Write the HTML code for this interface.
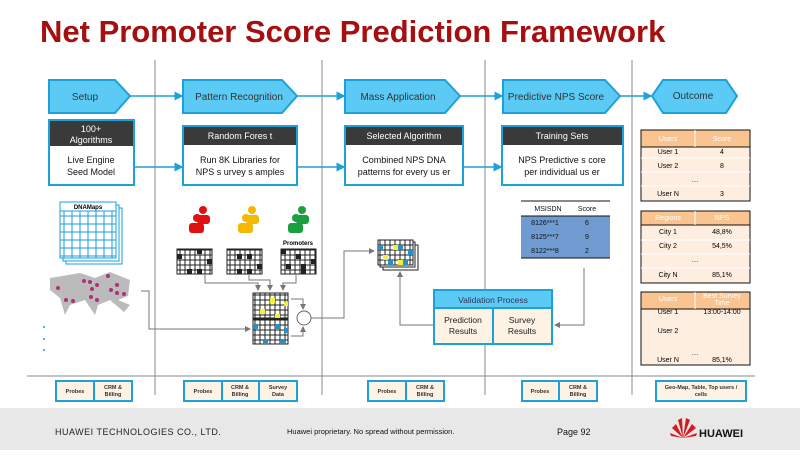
<!DOCTYPE html><html><head><style>body{margin:0;width:800px;height:450px;overflow:hidden;background:#fff;font-family:"Liberation Sans",sans-serif}</style></head><body>
<svg width="800" height="450" viewBox="0 0 800 450" font-family="Liberation Sans, sans-serif">
<defs>
<pattern id="g" width="5" height="5" patternUnits="userSpaceOnUse"><rect width="5" height="5" fill="#fff" stroke="#222" stroke-width="1"/></pattern>
<pattern id="gb" width="8" height="8" patternUnits="userSpaceOnUse"><rect width="8" height="8" fill="#fff" stroke="#1ea0d8" stroke-width="1"/></pattern>
<marker id="a" markerWidth="6" markerHeight="6" refX="5" refY="3" orient="auto"><path d="M0,0L6,3L0,6z" fill="#1ea0d8"/></marker>
<marker id="ag" markerWidth="6" markerHeight="6" refX="5" refY="3" orient="auto"><path d="M0,0L6,3L0,6z" fill="#777"/></marker>
</defs>
<text x="40" y="42" font-size="31" font-weight="bold" fill="#a50f0f">Net Promoter Score Prediction Framework</text>
<g stroke="#888" stroke-width="1"><line x1="155" y1="60" x2="155" y2="395"/><line x1="322" y1="60" x2="322" y2="395"/><line x1="485" y1="60" x2="485" y2="395"/><line x1="632" y1="60" x2="632" y2="395"/><line x1="27" y1="376" x2="755" y2="376"/></g>
<g fill="#5bcbf5" stroke="#1ea0d8" stroke-width="2">
<path d="M49,80H115L130,96L115,113H49Z"/><path d="M183,80H282L297,96L282,113H183Z"/><path d="M345,80H445L460,96L445,113H345Z"/><path d="M503,80H605L620,96L605,113H503Z"/><path d="M663,80H726L737,96L726,113H663L652,96Z"/>
</g>
<g font-size="10" fill="#333" text-anchor="middle"><text x="85" y="100">Setup</text><text x="239" y="100">Pattern Recognition</text><text x="398" y="100">Mass Application</text><text x="556" y="100">Predictive NPS Score</text><text x="693" y="99">Outcome</text></g>
<g stroke="#1ea0d8" stroke-width="1.5" marker-end="url(#a)"><line x1="130" y1="96" x2="182" y2="96"/><line x1="297" y1="96" x2="344" y2="96"/><line x1="460" y1="96" x2="502" y2="96"/><line x1="620" y1="96" x2="651" y2="96"/>
<line x1="134" y1="167" x2="182" y2="167"/><line x1="297" y1="167" x2="344" y2="167"/><line x1="463" y1="167" x2="501" y2="167"/></g>
<g stroke="#1ea0d8" stroke-width="2" fill="#fff"><rect x="49" y="120" width="85" height="65"/><rect x="183" y="126" width="114" height="59"/><rect x="345" y="126" width="118" height="59"/><rect x="502" y="126" width="121" height="59"/></g>
<g fill="#3a3a3a"><rect x="50" y="121" width="83" height="25"/><rect x="184" y="127" width="112" height="18"/><rect x="346" y="127" width="116" height="18"/><rect x="503" y="127" width="119" height="18"/></g>
<g font-size="9" fill="#fff" text-anchor="middle"><text x="91" y="132">100+</text><text x="91" y="143">Algorithms</text><text x="240" y="139">Random Fores t</text><text x="404" y="139">Selected Algorithm</text><text x="562" y="139">Training Sets</text></g>
<g font-size="9" fill="#111" text-anchor="middle"><text x="91" y="163">Live Engine</text><text x="91" y="175">Seed Model</text><text x="240" y="163">Run 8K Libraries for</text><text x="240" y="175">NPS s urvey s amples</text><text x="404" y="163">Combined NPS DNA</text><text x="404" y="175">patterns for every us er</text><text x="562" y="163">NPS Predictive s core</text><text x="562" y="175">per individual us er</text></g>
<rect x="66" y="208" width="56" height="56" fill="#fff" stroke="#1ea0d8"/><rect x="63" y="205" width="56" height="56" fill="#fff" stroke="#1ea0d8"/>
<rect x="60" y="202" width="56" height="56" fill="url(#gb)" stroke="#1ea0d8"/><rect x="60" y="202" width="56" height="9" fill="#fff" stroke="#1ea0d8"/>
<text x="88" y="209" font-size="6" font-weight="bold" text-anchor="middle">DNAMaps</text>
<path d="M50,278L80,273L95,278L110,272L130,280L128,296L118,300L130,305L124,312L110,300L98,305L95,315L85,300L70,305L65,315L60,298L50,290Z" fill="#bbb"/>
<g fill="#b0307a"><circle cx="58" cy="288" r="2"/><circle cx="66" cy="300" r="2"/><circle cx="73" cy="301" r="2"/><circle cx="84" cy="281" r="2"/><circle cx="90" cy="282" r="2"/><circle cx="92" cy="289" r="2"/><circle cx="97" cy="285" r="2"/><circle cx="108" cy="276" r="2"/><circle cx="91" cy="297" r="2"/><circle cx="97" cy="300" r="2"/><circle cx="111" cy="290" r="2"/><circle cx="117" cy="285" r="2"/><circle cx="117" cy="293" r="2"/><circle cx="124" cy="294" r="2"/></g>
<g fill="#1ea0d8"><circle cx="44" cy="327" r="1"/><circle cx="44" cy="339" r="1"/><circle cx="44" cy="350" r="1"/></g>
<g transform="translate(188,206)"><g fill="#e01010"><circle cx="15" cy="4" r="4"/><rect x="9" y="9" width="13" height="9" rx="3"/><circle cx="9" cy="12" r="4"/><rect x="1" y="17" width="15" height="10" rx="3"/></g></g>
<g transform="translate(237,206)"><g fill="#f5b800"><circle cx="15" cy="4" r="4"/><rect x="9" y="9" width="13" height="9" rx="3"/><circle cx="9" cy="12" r="4"/><rect x="1" y="17" width="15" height="10" rx="3"/></g></g>
<g transform="translate(287,206)"><g fill="#1aa040"><circle cx="15" cy="4" r="4"/><rect x="9" y="9" width="13" height="9" rx="3"/><circle cx="9" cy="12" r="4"/><rect x="1" y="17" width="15" height="10" rx="3"/></g></g>
<text x="298" y="245" font-size="6" font-weight="bold" text-anchor="middle">Promoters</text>
<rect x="177" y="249" width="35" height="25" fill="url(#g)" stroke="#222"/><rect x="227" y="249" width="35" height="25" fill="url(#g)" stroke="#222"/><rect x="281" y="249" width="35" height="25" fill="url(#g)" stroke="#222"/>
<g fill="#222"><rect x="177" y="254" width="5" height="5"/><rect x="197" y="249" width="5" height="5"/><rect x="207" y="259" width="5" height="5"/><rect x="187" y="269" width="5" height="5"/><rect x="197" y="269" width="5" height="5"/><rect x="237" y="254" width="5" height="5"/><rect x="247" y="254" width="5" height="5"/><rect x="257" y="264" width="5" height="5"/><rect x="237" y="269" width="5" height="5"/><rect x="247" y="269" width="5" height="5"/><rect x="281" y="249" width="5" height="5"/><rect x="296" y="254" width="5" height="5"/><rect x="311" y="259" width="5" height="5"/><rect x="301" y="264" width="5" height="5"/><rect x="286" y="264" width="5" height="5"/><rect x="301" y="269" width="5" height="5"/></g>
<rect x="253" y="293" width="35" height="25" fill="url(#g)" stroke="#222"/><rect x="253" y="319" width="35" height="25" fill="url(#g)" stroke="#222"/>
<g fill="#f0f040"><rect x="270" y="298" width="5" height="5"/><rect x="284" y="302" width="4" height="4"/><rect x="260" y="309" width="5" height="5"/><rect x="275" y="314" width="5" height="4"/></g>
<g fill="#2a8fc0"><rect x="253" y="324" width="5" height="5"/><rect x="275" y="324" width="5" height="5"/><rect x="284" y="328" width="4" height="5"/><rect x="263" y="339" width="5" height="5"/><rect x="280" y="339" width="5" height="5"/></g>
<circle cx="304" cy="318" r="7" fill="#fff" stroke="#666"/>
<g stroke="#777" fill="none" stroke-width="1" marker-end="url(#ag)"><path d="M205,275V283H258V290"/><path d="M249,275V280H270V290"/><path d="M296,275V283H283V290"/><path d="M291,299H303V309"/><path d="M291,336H303V327"/><path d="M141,291H149V329H250"/><path d="M311,318H344V251H374"/><path d="M434,325H400V272"/><path d="M584,268V325H555"/></g>
<rect x="383" y="245" width="35" height="25" fill="#fff" stroke="#222"/><rect x="380" y="242" width="35" height="25" fill="#fff" stroke="#222"/>
<rect x="378" y="240" width="35" height="25" fill="url(#g)" stroke="#222"/>
<g><rect x="378" y="245" width="5" height="5" fill="#2a8fc0"/><rect x="393" y="245" width="5" height="5" fill="#f0f040"/><rect x="398" y="245" width="5" height="5" fill="#2a8fc0"/><rect x="408" y="250" width="5" height="5" fill="#2a8fc0"/><rect x="383" y="255" width="5" height="5" fill="#f0f040"/><rect x="388" y="260" width="5" height="5" fill="#2a8fc0"/><rect x="398" y="260" width="5" height="5" fill="#f0f040"/><rect x="403" y="260" width="5" height="5" fill="#2a8fc0"/></g>
<line x1="521" y1="201" x2="610" y2="201" stroke="#111"/><rect x="521" y="216" width="89" height="42" fill="#6f9bd1"/><line x1="521" y1="216" x2="610" y2="216" stroke="#111"/><line x1="521" y1="258" x2="610" y2="258" stroke="#111"/>
<g font-size="7" text-anchor="middle" fill="#111"><text x="548" y="211">MSISDN</text><text x="587" y="211">Score</text><text x="545" y="225">8126***1</text><text x="587" y="225">6</text><text x="545" y="239">8125***7</text><text x="587" y="239">9</text><text x="545" y="253">8122***8</text><text x="587" y="253">2</text></g>
<rect x="434" y="290" width="118" height="54" fill="#fdf2e3" stroke="#1ea0d8" stroke-width="2"/><rect x="435" y="291" width="116" height="17" fill="#5bcbf5"/><line x1="434" y1="308" x2="552" y2="308" stroke="#1ea0d8" stroke-width="2"/><line x1="493" y1="308" x2="493" y2="344" stroke="#1ea0d8" stroke-width="2"/>
<g text-anchor="middle" font-size="8.5" fill="#222"><text x="493" y="303" fill="#335">Validation Process</text><text x="463" y="323">Prediction</text><text x="463" y="334">Results</text><text x="522" y="323">Survey</text><text x="522" y="334">Results</text></g>
<g font-size="7" text-anchor="middle">
<rect x="641" y="130" width="109" height="71" fill="#fdeee0" stroke="#111"/><rect x="641" y="130" width="109" height="17" fill="#f9c48f" stroke="#111"/><line x1="695" y1="130" x2="695" y2="147" stroke="#fff"/>
<g stroke="#fff"><line x1="641" y1="158" x2="750" y2="158"/><line x1="641" y1="172" x2="750" y2="172"/><line x1="641" y1="186" x2="750" y2="186"/></g>
<text x="668" y="141" fill="#fff">Users</text><text x="722" y="141" fill="#fff">Score</text><text x="668" y="154">User 1</text><text x="722" y="154">4</text><text x="668" y="168">User 2</text><text x="722" y="168">8</text><text x="695" y="182">…</text><text x="668" y="196">User N</text><text x="722" y="196">3</text>
<rect x="641" y="211" width="109" height="72" fill="#fdeee0" stroke="#111"/><rect x="641" y="211" width="109" height="14" fill="#f9c48f" stroke="#111"/><line x1="695" y1="211" x2="695" y2="225" stroke="#fff"/>
<g stroke="#fff"><line x1="641" y1="240" x2="750" y2="240"/><line x1="641" y1="254" x2="750" y2="254"/><line x1="641" y1="268" x2="750" y2="268"/></g>
<text x="668" y="220" fill="#fff">Regions</text><text x="722" y="220" fill="#fff">NPS</text><text x="668" y="234">City 1</text><text x="722" y="234">48,8%</text><text x="668" y="248">City 2</text><text x="722" y="248">54,5%</text><text x="695" y="262">…</text><text x="668" y="277">City N</text><text x="722" y="277">85,1%</text>
<rect x="641" y="292" width="109" height="73" fill="#fdeee0" stroke="#111"/><rect x="641" y="292" width="109" height="17" fill="#f9c48f" stroke="#111"/><line x1="695" y1="292" x2="695" y2="309" stroke="#fff"/>
<text x="668" y="301" fill="#fff">Users</text><text x="722" y="298" fill="#fff">Best Survey</text><text x="722" y="305" fill="#fff">Time</text><text x="668" y="314">User 1</text><text x="722" y="314">13:00-14:00</text><text x="668" y="333">User 2</text><text x="695" y="355">…</text><text x="668" y="362">User N</text><text x="722" y="362">85,1%</text>
</g>
<g fill="#fdf2e3" stroke="#1ea0d8" stroke-width="2"><rect x="56" y="381" width="76" height="20"/><rect x="184" y="381" width="113" height="20"/><rect x="368" y="381" width="76" height="20"/><rect x="522" y="381" width="75" height="20"/><rect x="656" y="381" width="90" height="20"/></g>
<g stroke="#1ea0d8" stroke-width="2"><line x1="94" y1="381" x2="94" y2="401"/><line x1="222" y1="381" x2="222" y2="401"/><line x1="259" y1="381" x2="259" y2="401"/><line x1="406" y1="381" x2="406" y2="401"/><line x1="559" y1="381" x2="559" y2="401"/></g>
<g font-size="5.5" text-anchor="middle" fill="#333" font-weight="bold"><text x="75" y="393">Probes</text><text x="113" y="389">CRM &amp;</text><text x="113" y="396">Billing</text><text x="203" y="393">Probes</text><text x="240" y="389">CRM &amp;</text><text x="240" y="396">Billing</text><text x="278" y="389">Survey</text><text x="278" y="396">Data</text><text x="387" y="393">Probes</text><text x="425" y="389">CRM &amp;</text><text x="425" y="396">Billing</text><text x="540" y="393">Probes</text><text x="578" y="389">CRM &amp;</text><text x="578" y="396">Billing</text><text x="701" y="389">Geo-Map, Table, Top users /</text><text x="701" y="396">cells</text></g>
<rect x="0" y="408" width="800" height="42" fill="#e8e8e8"/>
<text x="55" y="435" font-size="9" fill="#222" letter-spacing="0.5">HUAWEI TECHNOLOGIES CO., LTD.</text>
<text x="287" y="434" font-size="7.5" fill="#111">Huawei proprietary. No spread without permission.</text>
<text x="557" y="435" font-size="9" fill="#111">Page 92</text>
<g fill="#d71920"><path d="M683,438L672,428L676,424Z"/><path d="M683,438L678,420L682,418Z"/><path d="M683,438L686,418L690,420Z"/><path d="M683,438L692,424L696,428Z"/><path d="M683,438L670,433L671,436Z"/><path d="M683,438L697,433L696,436Z"/></g>
<text x="699" y="437" font-size="11" font-weight="bold" fill="#111">HUAWEI</text>
</svg></body></html>
